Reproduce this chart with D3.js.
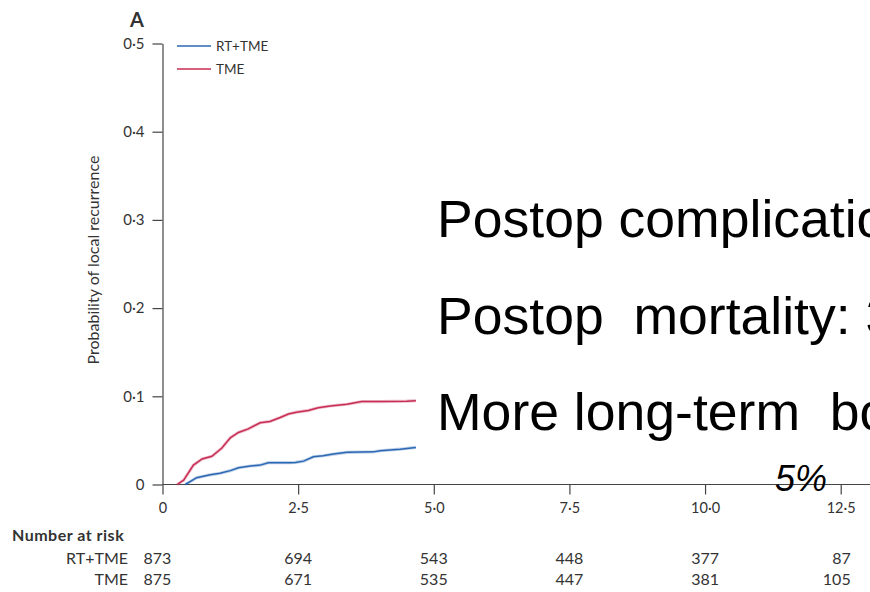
<!DOCTYPE html>
<html>
<head>
<meta charset="utf-8">
<script src="https://cdn.jsdelivr.net/npm/d3@7/dist/d3.min.js"></script>
<style>
  html, body { margin: 0; padding: 0; background: #fff; overflow: hidden; }
  svg { display: block; }
  .lbl { font-family: Lato, "Noto Sans", sans-serif; fill: #333; }
  .big { font-family: "Liberation Sans", Arial, sans-serif; fill: #000; white-space: pre; }
</style>
</head>
<body>
<svg id="chart" width="870" height="592"></svg>
<script>
// Cumulative local recurrence, years since randomisation
const tmeTimes = [0.27, 0.39, 0.57, 0.73, 0.91, 1.09, 1.25, 1.40, 1.58, 1.80, 1.98, 2.17, 2.32, 2.47, 2.69, 2.87, 3.09, 3.40, 3.67, 4.00, 4.50, 4.67];
const tmeValues = [0, 0.005, 0.022, 0.029, 0.032, 0.041, 0.053, 0.059, 0.063, 0.070, 0.0715, 0.076, 0.080, 0.082, 0.084, 0.087, 0.089, 0.091, 0.094, 0.094, 0.0945, 0.095];

const rtTimes = [0.42, 0.63, 0.88, 1.06, 1.25, 1.40, 1.62, 1.80, 1.95, 2.35, 2.45, 2.60, 2.78, 2.96, 3.15, 3.40, 3.89, 4.01, 4.38, 4.67];
const rtValues = [0, 0.0077, 0.011, 0.0127, 0.0157, 0.019, 0.021, 0.022, 0.0247, 0.0247, 0.025, 0.0265, 0.0315, 0.0326, 0.0345, 0.0365, 0.037, 0.0383, 0.040, 0.042];

// Axis ticks
const xTicks = [0, 2.5, 5, 7.5, 10, 12.5];
const yTicks = [0, 0.1, 0.2, 0.3, 0.4, 0.5];

// Number at risk
const riskGroups = ["RT+TME", "TME"];
const riskRT = [873, 694, 543, 448, 377, 87];
const riskTME = [875, 671, 535, 447, 381, 105];

// Text overlay
const notes = ["Postop complications", "Postop  mortality: 3", "More long-term  bo"];
const noteCorner = "5%";

const seriesNames = ["RT+TME", "TME"];
const seriesColors = ["#2c68b3", "#c72d55"];

const svg = d3.select("#chart");
const x = d3.scaleLinear().domain([0, 12.5]).range([162.5, 840.7]);
const y = d3.scaleLinear().domain([0, 0.5]).range([484.5, 43.5]);

const fmt = v => v === 0 ? "0" : d3.format(".1f")(v).replace(".", "\u00b7");

// Y axis
const gy = svg.append("g").attr("transform", `translate(${x(0)},0)`)
  .call(d3.axisLeft(y).tickValues(yTicks).tickFormat(fmt).tickSize(10).tickPadding(8).tickSizeOuter(0));
gy.select(".domain").attr("stroke", "#444").attr("stroke-width", 1.2);
gy.selectAll(".tick line").attr("stroke", "#444").attr("stroke-width", 1.2);
gy.selectAll(".tick text").attr("class", "lbl").style("font-size", "15px").attr("fill", "#333");

// X axis
const gx = svg.append("g").attr("transform", `translate(0,${y(0)})`)
  .call(d3.axisBottom(x).tickValues(xTicks).tickFormat(fmt).tickSize(10).tickPadding(8).tickSizeOuter(0));
gx.select(".domain").remove();
gx.append("line").attr("x1", x(0)).attr("x2", x(13.2)).attr("stroke", "#444").attr("stroke-width", 1.2);
gx.selectAll(".tick line").attr("stroke", "#444").attr("stroke-width", 1.2);
gx.selectAll(".tick text").attr("class", "lbl").style("font-size", "14.5px").attr("fill", "#333");

// Y label
svg.append("text").attr("class", "lbl")
  .attr("transform", `translate(99,${260}) rotate(-90)`)
  .attr("text-anchor", "middle").style("font-size", "16px")
  .text("Probability of local recurrence");

// Panel letter
svg.append("text").attr("class", "lbl").attr("x", 130).attr("y", 27)
  .style("font-size", "20px").style("font-weight", "bold").attr("fill", "#222").text("A");

// Curves
const line = d3.line().x(d => x(d[0])).y(d => y(d[1])).curve(d3.curveLinear);
const curves = [d3.zip(rtTimes, rtValues), d3.zip(tmeTimes, tmeValues)];
curves.forEach((pts, i) => {
  svg.append("path").datum(pts).attr("d", line).attr("fill", "none")
    .attr("stroke", seriesColors[i]).attr("stroke-opacity", 0.3).attr("stroke-width", 3.2);
  svg.append("path").datum(pts).attr("d", line).attr("fill", "none")
    .attr("stroke", seriesColors[i]).attr("stroke-width", 1.5);
});

// Legend
seriesNames.forEach((name, i) => {
  const ly = 46 + i * 23;
  svg.append("line").attr("x1", 177).attr("x2", 211).attr("y1", ly).attr("y2", ly)
    .attr("stroke", seriesColors[i]).attr("stroke-width", 1.6);
  svg.append("text").attr("class", "lbl").attr("x", 216).attr("y", ly + 5)
    .style("font-size", "13.5px").text(name);
});

// Number at risk table
svg.append("text").attr("class", "lbl").attr("x", 12).attr("y", 541)
  .style("font-size", "16px").style("font-weight", "bold").style("letter-spacing", "0.5px")
  .attr("fill", "#222").text("Number at risk");
[riskRT, riskTME].forEach((vals, r) => {
  const ry = 564 + r * 21;
  svg.append("text").attr("class", "lbl").attr("x", 128).attr("y", ry)
    .attr("text-anchor", "end").style("font-size", "16px").text(riskGroups[r]);
  vals.forEach((v, j) => {
    const last = j === vals.length - 1;
    const anchor = j === 0 ? "start" : (last ? "end" : "middle");
    const px = j === 0 ? x(xTicks[j]) - 19 : (last ? x(xTicks[j]) + 10 : x(xTicks[j]));
    svg.append("text").attr("class", "lbl").attr("x", px).attr("y", ry)
      .attr("text-anchor", anchor).style("font-size", "16px").text(v);
  });
});

// Overlay notes
notes.forEach((t, i) => {
  svg.append("text").attr("class", "big")
    .attr("transform", `translate(437,${237 + i * 96.5}) scale(1.05,1)`)
    .style("font-size", "51px").text(t);
});
svg.append("text").attr("class", "big").attr("x", 775).attr("y", 491)
  .style("font-size", "36px").style("font-style", "italic").text(noteCorner);
</script>
</body>
</html>
